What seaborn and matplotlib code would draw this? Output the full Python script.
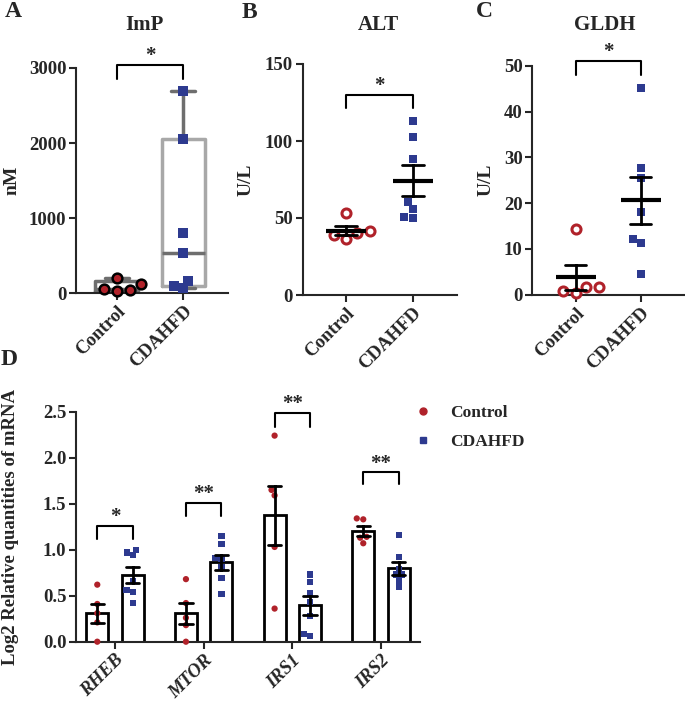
import numpy as np
import pandas as pd
import matplotlib.pyplot as plt
import seaborn as sns
from matplotlib.lines import Line2D

# ---- data ----
groups = ["Control", "CDAHFD"]

# A: ImP (nM)
imp_control = [200, 124, 22, 35, 53]
imp_cdahfd = [2690, 2050, 799, 533, 164, 62, 89]

# B: ALT (U/L)
alt_control = [36.1, 41.3, 38.7, 40.0, 53.2]
alt_cdahfd = [112.8, 102.6, 88.3, 55.8, 50.0, 60.2, 50.6]

# C: GLDH (U/L)
gldh_control = [0.3, 1.75, 0.7, 1.75, 14.4]
gldh_cdahfd = [45.1, 27.8, 25.6, 18.1, 12.1, 11.2, 4.5]

# D: log2 relative quantities of mRNA
genes = ["RHEB", "MTOR", "IRS1", "IRS2"]
rheb_control = [0.62, 0.41, 0.31, 0.21, 0.0]
rheb_cdahfd = [1.00, 0.94, 0.97, 0.66, 0.56, 0.54, 0.42]
mtor_control = [0.68, 0.42, 0.26, 0.18, 0.0]
mtor_cdahfd = [1.15, 1.06, 0.91, 0.90, 0.81, 0.69, 0.52]
irs1_control = [2.24, 1.65, 1.59, 1.03, 0.36]
irs1_cdahfd = [0.73, 0.65, 0.53, 0.43, 0.28, 0.06, 0.08]
irs2_control = [1.33, 1.34, 1.14, 1.13, 1.07]
irs2_cdahfd = [1.16, 0.92, 0.79, 0.73, 0.73, 0.67, 0.60]

# significance brackets: (bracket top, leg end, label)
sig_A = (3040, 2853, "*")
sig_B = (129.9, 121.4, "*")
sig_C = (51.1, 48.0, "*")
sig_D = [(1.26, 1.12, "*"), (1.51, 1.37, "**"), (2.49, 2.33, "**"), (1.84, 1.71, "**")]

red = "#b0222a"
blue = "#2d3a8f"
dark_grey = "#6e6e6e"
light_grey = "#a8a8a8"


def two_group(control, cdahfd):
    return pd.DataFrame({
        "group": ["Control"] * len(control) + ["CDAHFD"] * len(cdahfd),
        "value": list(control) + list(cdahfd),
    })


dfA = two_group(imp_control, imp_cdahfd)
dfB = two_group(alt_control, alt_cdahfd)
dfC = two_group(gldh_control, gldh_cdahfd)

gene_data = [(rheb_control, rheb_cdahfd), (mtor_control, mtor_cdahfd),
             (irs1_control, irs1_cdahfd), (irs2_control, irs2_cdahfd)]
dfD = pd.concat([two_group(c, d).assign(gene=g) for g, (c, d) in zip(genes, gene_data)],
                ignore_index=True)

# ---- style ----
sns.set_style("ticks")
plt.rcParams["font.family"] = ["Liberation Serif", "DejaVu Serif"]
plt.rcParams["font.weight"] = "bold"
plt.rcParams["axes.linewidth"] = 1.5

W, H = 685, 701
fig = plt.figure(figsize=(W / 100, H / 100), dpi=100)


def px_axes(left, top, right, bottom):
    return fig.add_axes([left / W, 1 - bottom / H, (right - left) / W, (bottom - top) / H])


def fig_text(x, y, s, **kw):
    fig.text(x / W, 1 - y / H, s, **kw)


axA = px_axes(76, 68, 228, 293)
axB = px_axes(302.7, 64, 457, 295)
axC = px_axes(532.3, 66, 685, 294.7)
axD = px_axes(76, 411.7, 420, 641.7)


def style(ax, ylim, yticks, xlim, xlabels, italic=False):
    ax.set_ylim(ylim)
    ax.set_yticks(yticks)
    ax.set_xlim(xlim)
    ax.set_xticks(range(len(xlabels)))
    ax.set_xticklabels(xlabels, rotation=45, ha="right", rotation_mode="anchor",
                       fontsize=14, fontweight="bold",
                       fontstyle="italic" if italic else "normal")
    ax.set_xlabel("")
    ax.set_ylabel("")
    sns.despine(ax=ax)
    ax.tick_params(width=1.5, length=5, labelsize=13.5, pad=2)


def bracket(ax, x1, x2, top, end, label):
    ax.plot([x1, x1, x2, x2], [end, top, top, end], color="black", lw=1.5, clip_on=False)
    ax.annotate(label, xy=((x1 + x2) / 2, top), xytext=(0, -1), textcoords="offset points",
                ha="center", va="bottom", fontsize=15, fontweight="bold", annotation_clip=False)


# ---- A: box & whiskers (min to max) ----
def box_stats(vals):
    q1, med, q3 = np.percentile(vals, [25, 50, 75], method="weibull")
    return dict(med=med, q1=q1, q3=q3, whislo=min(vals), whishi=max(vals), fliers=[])


for i, (vals, edge) in enumerate([(imp_control, dark_grey), (imp_cdahfd, light_grey)]):
    axA.bxp([box_stats(vals)], positions=[i], widths=0.65, capwidths=0.35,
            showfliers=False, manage_ticks=False,
            boxprops=dict(color=edge, linewidth=2.5),
            medianprops=dict(color=dark_grey, linewidth=2.5),
            whiskerprops=dict(color=dark_grey, linewidth=2.5),
            capprops=dict(color=dark_grey, linewidth=2.5))

sns.swarmplot(data=dfA[dfA.group == "Control"], x="group", y="value", order=groups,
              marker="o", color=red, edgecolor="black", linewidth=1.8, size=7,
              clip_on=False, zorder=3, ax=axA)
sns.swarmplot(data=dfA[dfA.group == "CDAHFD"], x="group", y="value", order=groups,
              marker="s", color=blue, linewidth=0, size=6.5,
              clip_on=False, zorder=3, ax=axA)
style(axA, (0, 3000), [0, 1000, 2000, 3000], (-0.62, 1.68), groups)
bracket(axA, 0, 1, *sig_A)


# ---- B, C: scatter with mean +/- SEM ----
def scatter_panel(ax, df):
    sns.swarmplot(data=df[df.group == "Control"], x="group", y="value", order=groups,
                  marker="o", color="white", edgecolor=red, linewidth=2.2, size=6.5,
                  clip_on=False, zorder=3, ax=ax)
    sns.swarmplot(data=df[df.group == "CDAHFD"], x="group", y="value", order=groups,
                  marker="s", color=blue, linewidth=0, size=6,
                  clip_on=False, zorder=3, ax=ax)
    sns.pointplot(data=df, x="group", y="value", order=groups, errorbar="se",
                  color="black", marker="_", markersize=29, markeredgewidth=3,
                  linestyle="none", capsize=0.32, err_kws={"linewidth": 2},
                  zorder=4, ax=ax)


scatter_panel(axB, dfB)
style(axB, (0, 150), [0, 50, 100, 150], (-0.646, 1.657), groups)
bracket(axB, 0, 1, *sig_B)

scatter_panel(axC, dfC)
style(axC, (0, 50), [0, 10, 20, 30, 40, 50], (-0.668, 1.68), groups)
bracket(axC, 0, 1, *sig_C)

# ---- D: bars with SEM and individual points ----
sns.barplot(data=dfD, x="gene", y="value", hue="group", order=genes, hue_order=groups,
            palette={"Control": "white", "CDAHFD": "white"}, edgecolor="black",
            linewidth=2, errorbar="se", capsize=0.3, gap=0.375,
            err_kws={"color": "black", "linewidth": 2}, legend=False, ax=axD)
pal = {"Control": red, "CDAHFD": blue}
for grp, marker in zip(groups, ["o", "s"]):
    sns.swarmplot(data=dfD[dfD.group == grp], x="gene", y="value", hue="group",
                  order=genes, hue_order=groups, dodge=True, palette=pal,
                  marker=marker, size=4.5, linewidth=0, legend=False,
                  clip_on=False, zorder=3, ax=axD)
for line in axD.lines:
    line.set_zorder(4)
style(axD, (0, 2.5), [0.0, 0.5, 1.0, 1.5, 2.0, 2.5], (-0.44, 3.44), genes, italic=True)
axD.set_yticklabels(["0.0", "0.5", "1.0", "1.5", "2.0", "2.5"])
for i, (top, end, label) in enumerate(sig_D):
    bracket(axD, i - 0.2, i + 0.2, top, end, label)

handles = [Line2D([], [], marker="o", color=red, linestyle="none", markersize=5),
           Line2D([], [], marker="s", color=blue, linestyle="none", markersize=5)]
fig.legend(handles, groups, loc="upper left", bbox_to_anchor=(414 / W, 1 - 405 / H),
           frameon=False, borderpad=0, borderaxespad=0, handlelength=1,
           handletextpad=1.1, labelspacing=0.75, prop={"size": 12.5, "weight": "bold"})

# ---- titles, axis labels, panel letters ----
fig_text(144, 30, "ImP", ha="center", va="baseline", fontsize=15, fontweight="bold")
fig_text(378, 30, "ALT", ha="center", va="baseline", fontsize=15, fontweight="bold")
fig_text(605, 30, "GLDH", ha="center", va="baseline", fontsize=15, fontweight="bold")

fig_text(12.5, 180, "nM", rotation=90, ha="center", va="center", fontsize=14, fontweight="bold")
fig_text(246.5, 180, "U/L", rotation=90, ha="center", va="center", fontsize=14, fontweight="bold")
fig_text(486, 180, "U/L", rotation=90, ha="center", va="center", fontsize=14, fontweight="bold")
fig_text(11, 527, "Log2 Relative quantities of mRNA", rotation=90, ha="center", va="center",
         fontsize=13.5, fontweight="bold")

for letter, x, y in [("A", 13, 17), ("B", 249.5, 18), ("C", 484.5, 17), ("D", 9.5, 365)]:
    fig_text(x, y, letter, ha="center", va="baseline", fontsize=17, fontweight="bold")

fig.savefig("out.png", dpi=100)
